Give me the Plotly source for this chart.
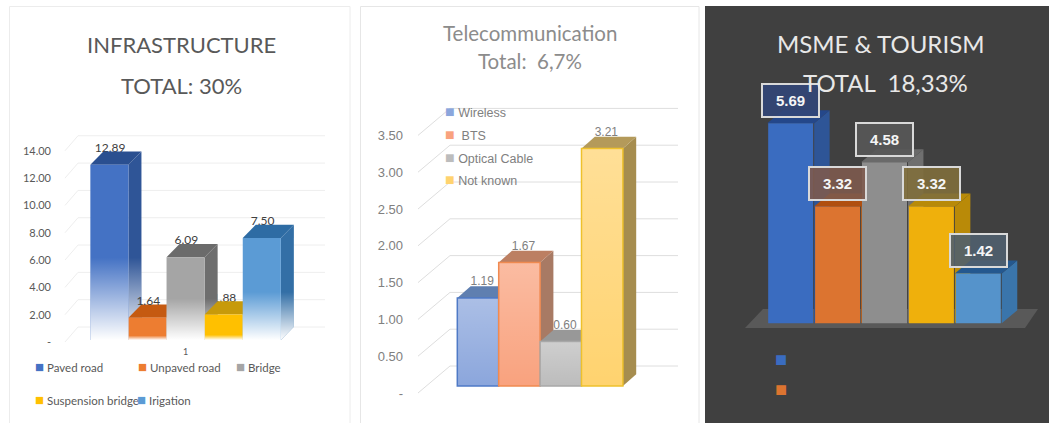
import plotly.graph_objects as go

W, H = 1049, 423

# ---- data ----
infra_categories = ["Paved road", "Unpaved road", "Bridge", "Suspension bridge", "Irigation"]
infra_values = [12.89, 1.64, 6.09, 1.88, 7.50]
infra_ticks = [0, 2, 4, 6, 8, 10, 12, 14]
infra_ticklabels = ["-", "2.00", "4.00", "6.00", "8.00", "10.00", "12.00", "14.00"]

tele_categories = ["Wireless", "&nbsp;BTS", "Optical Cable", "Not known"]
tele_values = [1.19, 1.67, 0.60, 3.21]
tele_ticks = [0, 0.5, 1, 1.5, 2, 2.5, 3, 3.5]
tele_ticklabels = ["-", "0.50", "1.00", "1.50", "2.00", "2.50", "3.00", "3.50"]

msme_categories = ["", "", "", "", ""]
msme_values = [5.69, 3.32, 4.58, 3.32, 1.42]

# ---- styles ----
NARROW = "Lato, sans-serif"
infra_front = ["#4472c4", "#ed7d31", "#a5a5a5", "#ffc000", "#5b9bd5"]
infra_side = ["#2f5597", "#c0682c", "#6e6e6e", "#b8920f", "#336fa6"]
infra_top = ["#2a4f90", "#c55a11", "#6b6b6b", "#c79a0a", "#2e6ca4"]
infra_fade = [0.47, 0.2, 0.5, 0.2, 0.47]
tele_front = ["#8ba6dc", "#f9a27e", "#bcbcbc", "#ffd36f"]
tele_edge = ["#4f7ac6", "#f08a50", "#a8a8a8", "#eec12c"]
tele_side = ["#6f85ad", "#a87a64", "#8f8f8f", "#a68d4f"]
tele_top = ["#5f7fb0", "#bc7f62", "#989898", "#b49a5a"]
msme_front = ["#3a6cc0", "#dc7430", "#8e8e8e", "#efb00c", "#5593cb"]
msme_side = ["#2e5597", "#b5601f", "#6f6f6f", "#b98a08", "#3a75ab"]
msme_top = ["#24478a", "#b04f10", "#6a6a6a", "#b88a08", "#24588f"]
msme_box = ["rgba(50,70,120,.9)", "rgba(125,90,78,.9)", "rgba(88,88,88,.9)",
            "rgba(128,110,60,.9)", "rgba(80,95,110,.9)"]


def dom_x(a, b):
    return [a / W, b / W]


def dom_y(top, bottom):
    return [1 - bottom / H, 1 - top / H]


fig = go.Figure()
axes = {}


def x_axis(name, left, right, first_px, unit, **kw):
    axes[name] = dict(domain=dom_x(left, right), automargin=False,
                      range=[(left - first_px) / unit, (right - first_px) / unit],
                      showgrid=False, zeroline=False, showline=False, fixedrange=True, **kw)


def y_axis(name, top, bottom, zero_px, unit, **kw):
    axes[name] = dict(domain=dom_y(top, bottom), automargin=False,
                      range=[(zero_px - bottom) / unit, (zero_px - top) / unit],
                      showgrid=False, zeroline=False, showline=False, fixedrange=True, **kw)


def poly(xs, ys, color, xa, ya):
    fig.add_trace(go.Scatter(x=xs, y=ys, mode="lines", fill="toself", fillcolor=color,
                             line=dict(width=0), hoverinfo="skip", showlegend=False,
                             xaxis=xa, yaxis=ya))


def grad(xs, ys, start, stop, c0, c1, xa, ya):
    fig.add_trace(go.Scatter(x=xs, y=ys, mode="lines", fill="toself",
                             fillgradient=dict(type="vertical", start=start, stop=stop,
                                               colorscale=[[0, c0], [1, c1]]),
                             line=dict(width=0), hoverinfo="skip", showlegend=False,
                             xaxis=xa, yaxis=ya))


def side_xy(i, v, dx, dy):
    r = i + 0.5
    return [r, r + dx, r + dx, r, r], [0, dy, v + dy, v, 0]


def top_xy(i, v, dx, dy):
    l, r = i - 0.5, i + 0.5
    return [l, l + dx, r + dx, r, l], [v, v + dy, v + dy, v, v]


def walls(ticks, xa, ya, left, right, dx, dy, color):
    for t in ticks:
        fig.add_trace(go.Scatter(x=[left, left + dx, right], y=[t, t + dy, t + dy], mode="lines",
                                 line=dict(color=color, width=1), hoverinfo="skip",
                                 showlegend=False, xaxis=xa, yaxis=ya))


WHITE0 = "rgba(255,255,255,0)"
WHITE1 = "rgba(255,255,255,1)"

# ---------- panel 1 ----------
x_axis("xaxis", 52, 340, 109.4, 38.1, tickvals=[2], ticktext=["1"], ticklen=0,
       tickfont=dict(family=NARROW, size=9, color="#595959"), anchor="y")
y_axis("yaxis", 130, 345, 342, 13.66, tickvals=infra_ticks, ticktext=infra_ticklabels, ticklen=0,
       tickfont=dict(family=NARROW, size=11, color="#595959"), anchor="x")
y_axis("yaxis2", 130, 345, 340, 13.6, visible=False, overlaying="y", anchor="x")
y_axis("yaxis3", 130, 345, 340, 13.6, visible=False, overlaying="y", anchor="x")
walls(infra_ticks, "x", "y", (65 - 109.4) / 38.1, (325 - 109.4) / 38.1, 13 / 38.1, 15 / 13.66, "#eeeeee")
dx1, dy1 = 13 / 38.1, 13.3 / 13.6


def infra_labels(indices, ya):
    fig.add_trace(go.Scatter(x=[i + 0.02 for i in indices], y=[infra_values[i] + dy1 - 0.25 for i in indices],
                             text=[f"{infra_values[i]:.2f}" for i in indices], mode="text",
                             textposition="top center", hoverinfo="skip", showlegend=False,
                             textfont=dict(family=NARROW, size=12, color="#404040"), xaxis="x", yaxis=ya))


infra_labels([0, 2, 3, 4], "y2")
for i, v in enumerate(infra_values):
    xs, ys = side_xy(i, v, dx1, dy1)
    poly(xs, ys, infra_side[i], "x", "y2")
    grad(xs, ys, 0, v * infra_fade[i], WHITE1, WHITE0, "x", "y2")
    xs, ys = top_xy(i, v, dx1, dy1)
    poly(xs, ys, infra_top[i], "x", "y2")
for i, v in enumerate(infra_values):
    fig.add_trace(go.Bar(x=[i], y=[v], width=1, name=infra_categories[i],
                         marker=dict(color=infra_front[i], line=dict(width=0)),
                         showlegend=False, hoverinfo="skip", xaxis="x", yaxis="y3"))
    grad([i - .5, i + .5, i + .5, i - .5, i - .5], [0, 0, v, v, 0], 0, v * infra_fade[i], WHITE1, WHITE0, "x", "y3")
infra_labels([1], "y3")

# ---------- panel 2 ----------
x_axis("xaxis2", 404, 690, 478, 41.4, visible=False, anchor="y4")
y_axis("yaxis4", 95, 400, 393, 73.6, tickvals=tele_ticks, ticktext=tele_ticklabels, ticklen=0,
       tickfont=dict(family="Liberation Sans", size=13, color="#808080"), anchor="x2")
y_axis("yaxis5", 95, 400, 386, 74, visible=False, overlaying="y4", anchor="x2")
y_axis("yaxis6", 95, 400, 386, 74, visible=False, overlaying="y4", anchor="x2")
walls(tele_ticks, "x2", "y4", (418 - 478) / 41.4, (678 - 478) / 41.4, 32 / 41.4, 27 / 73.6, "#dedede")
dx2, dy2 = 13.3 / 41.4, 11.7 / 74
fig.add_trace(go.Scatter(x=[i + 0.1 for i in range(4)], y=[v + dy2 - 0.03 for v in tele_values],
                         text=[f"{v:.2f}" for v in tele_values], mode="text",
                         textposition="top center", hoverinfo="skip", showlegend=False,
                         textfont=dict(family="Liberation Sans", size=12, color="#808080"), xaxis="x2", yaxis="y5"))
for i, v in enumerate(tele_values):
    xs, ys = side_xy(i, v, dx2, dy2)
    poly(xs, ys, tele_side[i], "x2", "y5")
    xs, ys = top_xy(i, v, dx2, dy2)
    poly(xs, ys, tele_top[i], "x2", "y5")
for i, v in enumerate(tele_values):
    fig.add_trace(go.Bar(x=[i], y=[v], width=1, name=tele_categories[i], showlegend=False,
                         marker=dict(color=tele_front[i], line=dict(width=1.5, color=tele_edge[i])),
                         hoverinfo="skip", xaxis="x2", yaxis="y6"))
    grad([i - .48, i + .48, i + .48, i - .48, i - .48], [0.01, 0.01, v - 0.01, v - 0.01, 0.01], v, 0,
         "rgba(255,255,255,.28)", WHITE0, "x2", "y6")

# ---------- panel 3 ----------
x_axis("xaxis3", 710, 1045, 790.7, 46.9, visible=False, anchor="y7")
y_axis("yaxis7", 90, 340, 323.3, 35.15, visible=False, anchor="x3")
y_axis("yaxis8", 90, 340, 323.3, 35.15, visible=False, overlaying="y7", anchor="x3")
y_axis("yaxis9", 90, 340, 323.3, 35.15, visible=False, overlaying="y7", anchor="x3")
fx0, fx1 = (745 - 790.7) / 46.9, (1025 - 790.7) / 46.9
fdx, fdy = 18 / 46.9, 19 / 35.15
fz = -4.7 / 35.15
poly([fx0, fx0 + fdx, fx1 + 13 / 46.9, fx1, fx0], [fz, fz + fdy, fz + fdy, fz, fz], "#595959", "x3", "y7")
dx3, dy3 = 15.5 / 46.9, 13 / 35.15
for i, v in enumerate(msme_values):
    xs, ys = side_xy(i, v, dx3, dy3)
    poly(xs, ys, msme_side[i], "x3", "y8")
    xs, ys = top_xy(i, v, dx3, dy3)
    poly(xs, ys, msme_top[i], "x3", "y8")
for i, v in enumerate(msme_values):
    fig.add_trace(go.Bar(x=[i], y=[v], width=0.96, name=msme_categories[i], showlegend=False,
                         marker=dict(color=msme_front[i], line=dict(width=0)),
                         hoverinfo="skip", xaxis="x3", yaxis="y9"))

annotations = []
for i, v in enumerate(msme_values):
    annotations.append(dict(x=i, y=v + 0.66, xref="x3", yref="y7", text=f"<b>{v:.2f}</b>", showarrow=False,
                            width=53, height=29, bgcolor=msme_box[i], bordercolor="#d9d9d9", borderwidth=2,
                            font=dict(family="Liberation Sans", size=15, color="#f5f5f5")))


def label(text, px, py, family, size, color, anchor="center"):
    annotations.append(dict(x=px / W, y=1 - py / H, xref="paper", yref="paper", text=text, showarrow=False,
                            xanchor=anchor, yanchor="middle", font=dict(family=family, size=size, color=color)))


def key(name, color, px, py, family, size, glyph, text_color):
    label(f'<span style="color:{color};font-size:{glyph}px">■</span> {name}', px, py, family, size, text_color, "left")


label("INFRASTRUCTURE", 181.7, 44, NARROW, 22, "#595959")
label("TOTAL: 30%", 181.7, 86, NARROW, 22, "#595959")
label("Telecommunication", 530, 33, "Lato", 20.5, "#8c8c8c")
label("Total:  6,7%", 530, 61, "Lato", 20.5, "#8c8c8c")
label("MSME &amp; TOURISM", 880, 43, "Lato", 24, "#e8e8e8")
label("TOTAL  18,33%", 885, 82, "Lato", 24, "#e8e8e8")

for i, (px, py) in enumerate([(33, 366), (136, 366), (234, 366), (33, 399), (135, 399)]):
    key(infra_categories[i], infra_front[i], px, py, NARROW, 11.5, 15, "#595959")
for i, py in enumerate([111, 134, 157, 180]):
    key(tele_categories[i], tele_front[i], 443, py, "Liberation Sans", 12.5, 16, "#808080")
for i, py in enumerate([359, 389]):
    key(msme_categories[i], msme_front[i], 773, py, "Liberation Sans", 15, 20, "#808080")

shapes = [
    dict(type="rect", xref="paper", yref="paper", x0=9.5 / W, x1=350 / W, y0=-0.01, y1=1 - 6.5 / H,
         line=dict(color="#ececec", width=1), fillcolor="#ffffff", layer="below"),
    dict(type="rect", xref="paper", yref="paper", x0=360.5 / W, x1=699 / W, y0=-0.01, y1=1 - 6.5 / H,
         line=dict(color="#e6e6e6", width=1), fillcolor="#ffffff", layer="below"),
    dict(type="rect", xref="paper", yref="paper", x0=705 / W, x1=1, y0=0, y1=1 - 6 / H,
         line=dict(width=0), fillcolor="#404040", layer="below"),
]

fig.update_layout(
    width=W, height=H, autosize=False, margin=dict(l=0, r=0, t=0, b=0), showlegend=False,
    paper_bgcolor="#ffffff", plot_bgcolor="rgba(0,0,0,0)", barmode="overlay",
    annotations=annotations, shapes=shapes,
    **axes,
)

fig.write_html("out.html", config=dict(displayModeBar=False),
               post_script="document.body.style.margin='0';document.documentElement.style.overflow='hidden';")
